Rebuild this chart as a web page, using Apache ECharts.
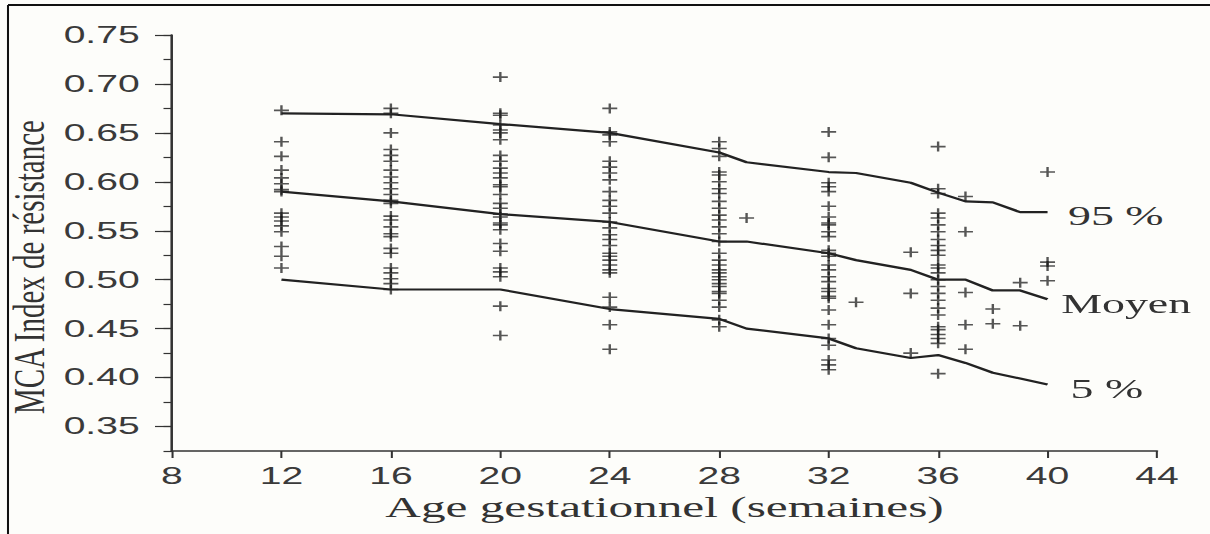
<!DOCTYPE html>
<html><head><meta charset="utf-8">
<script src="https://cdn.jsdelivr.net/npm/echarts@6/dist/echarts.min.js"></script>
<style>
html,body{margin:0;padding:0;background:#fdfdfa;overflow:hidden}
#wrap{width:1210px;height:534px;overflow:hidden;position:relative}
#chart{height:534px;transform-origin:0 0;position:absolute;left:0;top:0}
</style></head><body><div id="wrap"><div id="chart"></div></div>
<script>
// ---- data ----
const xTickValues = [8, 12, 16, 20, 24, 28, 32, 36, 40, 44];
const yTickValues = [0.35, 0.40, 0.45, 0.50, 0.55, 0.60, 0.65, 0.70, 0.75];

const curveWeeks = [12, 16, 20, 24, 28, 29, 32, 33, 35, 36, 37, 38, 39, 40];
const p95  = [0.670, 0.669, 0.659, 0.650, 0.630, 0.620, 0.610, 0.609, 0.599, 0.589, 0.580, 0.579, 0.569, 0.569];
const mean = [0.590, 0.580, 0.567, 0.559, 0.539, 0.539, 0.527, 0.520, 0.510, 0.500, 0.500, 0.489, 0.489, 0.480];
const p5   = [0.500, 0.490, 0.490, 0.470, 0.460, 0.450, 0.440, 0.430, 0.420, 0.423, 0.415, 0.405, 0.399, 0.393];

const ri12 = [0.673,0.641,0.626,0.612,0.604,0.598,0.592,0.590,0.568,0.564,0.560,0.555,0.549,0.534,0.524,0.512];
const ri16 = [0.675,0.670,0.650,0.633,0.627,0.621,0.612,0.605,0.599,0.593,0.587,0.581,0.578,0.565,0.561,0.554,0.547,0.544,0.532,0.527,0.512,0.507,0.501,0.496,0.490];
const ri20 = [0.707,0.670,0.668,0.658,0.653,0.650,0.643,0.627,0.621,0.614,0.609,0.604,0.597,0.595,0.587,0.578,0.573,0.567,0.564,0.558,0.556,0.551,0.537,0.529,0.512,0.508,0.503,0.473,0.443];
const ri24 = [0.675,0.651,0.648,0.641,0.621,0.615,0.609,0.602,0.590,0.581,0.575,0.568,0.559,0.553,0.546,0.541,0.535,0.527,0.524,0.520,0.515,0.510,0.507,0.482,0.472,0.454,0.429];
const ri28 = [0.641,0.634,0.626,0.610,0.607,0.600,0.593,0.588,0.580,0.573,0.566,0.561,0.554,0.547,0.539,0.527,0.520,0.515,0.510,0.507,0.503,0.500,0.496,0.493,0.488,0.486,0.479,0.472,0.459,0.452];
const ri29 = [0.563];
const ri32 = [0.651,0.625,0.599,0.595,0.590,0.575,0.564,0.558,0.556,0.549,0.544,0.530,0.527,0.524,0.515,0.510,0.503,0.498,0.491,0.488,0.483,0.481,0.469,0.454,0.440,0.433,0.418,0.413,0.408];
const ri33 = [0.477];
const ri35 = [0.528,0.486,0.425];
const ri36 = [0.636,0.593,0.588,0.568,0.563,0.556,0.549,0.541,0.535,0.530,0.525,0.515,0.512,0.507,0.500,0.493,0.486,0.479,0.471,0.464,0.452,0.449,0.444,0.440,0.435,0.404];
const ri37 = [0.585,0.549,0.487,0.454,0.429];
const ri38 = [0.470,0.455];
const ri39 = [0.497,0.453];
const ri40 = [0.610,0.518,0.514,0.499];

const obsWeeks = [12, 16, 20, 24, 28, 29, 32, 33, 35, 36, 37, 38, 39, 40];
const obsLists = [ri12, ri16, ri20, ri24, ri28, ri29, ri32, ri33, ri35, ri36, ri37, ri38, ri39, ri40];

// ---- layout (the picture is horizontally stretched) ----
const SX = 1.7;
const W = 1210 / SX;
const dom = document.getElementById('chart');
dom.style.width = W + 'px';
dom.style.transform = 'scaleX(' + SX + ')';

const obsData = [];
obsWeeks.forEach((w, i) => obsLists[i].forEach(v => obsData.push([w, v])));
const toPairs = arr => curveWeeks.map((w, i) => [w, arr[i]]);

const serif = "'Liberation Serif', 'Times New Roman', serif";
const sans = "'Liberation Sans', Arial, sans-serif";
const ink = '#222';

function curve(name, arr, dx) {
  return {
    type: 'line', name: name, data: toPairs(arr), symbol: 'none', silent: true, z: 3,
    lineStyle: { color: ink, width: 2.2 },
    endLabel: { show: true, formatter: name, distance: 0, offset: [dx, 4],
      color: '#333', fontFamily: serif, fontSize: 27 },
    animation: false
  };
}

const chart = echarts.init(dom, null, { renderer: 'svg', width: W, height: 534 });
chart.setOption({
  backgroundColor: '#fdfdfa',
  animation: false,
  grid: { left: 172 / SX, right: 53 / SX, top: 35, bottom: 83, containLabel: false, outerBoundsMode: 'none' },
  xAxis: {
    type: 'value', min: 8, max: 44, interval: 4,
    axisLine: { show: true, lineStyle: { color: '#333', width: 1.6 } },
    axisTick: { show: true, length: 7, lineStyle: { color: '#333', width: 1.2 } },
    axisLabel: { color: '#3a3a3a', fontFamily: sans, fontSize: 23, margin: 14,
      customValues: xTickValues },
    splitLine: { show: false },
    name: 'Age gestationnel (semaines)', nameLocation: 'middle', nameGap: 40,
    nameTextStyle: { fontFamily: serif, fontSize: 29, color: '#333' }
  },
  yAxis: [{
    type: 'value', min: 0.325, max: 0.75, interval: 0.025, position: 'left',
    axisLine: { show: true, lineStyle: { color: '#333', width: 1.5 } },
    axisTick: { show: true, length: 5, lineStyle: { color: '#333', width: 1.2 } },
    axisLabel: { show: false }, splitLine: { show: false }
  }, {
    type: 'value', min: 0.325, max: 0.75, position: 'left', offset: 0,
    axisLine: { show: false },
    axisTick: { show: true, length: 10, customValues: yTickValues, lineStyle: { color: '#333', width: 1.2 } },
    axisLabel: { show: true, customValues: yTickValues, formatter: v => v.toFixed(2),
      color: '#3a3a3a', fontFamily: sans, fontSize: 23, margin: 19 },
    splitLine: { show: false }
  }],
  graphic: [
    { type: 'line', shape: { x1: 8 / SX, y1: 5, x2: W, y2: 5 }, style: { stroke: '#111', lineWidth: 2 } },
    { type: 'line', shape: { x1: 8 / SX, y1: 5, x2: 8 / SX, y2: 534 }, style: { stroke: '#111', lineWidth: 1.2 } },
    { type: 'text', x: 29 / SX, y: 267, rotation: Math.PI / 2, scaleY: 0.9,
      style: { text: 'MCA Index de résistance', font: "29px 'Liberation Serif', serif",
        fill: '#333', textAlign: 'center', textVerticalAlign: 'middle' } }
  ],
  series: [
    {
      type: 'scatter', data: obsData, yAxisIndex: 0, z: 2,
      symbol: 'path://M0,4.2H10V5.8H0Z M4.2,0H5.8V10H4.2Z',
      symbolSize: [8.8, 10],
      itemStyle: { color: '#151515', opacity: 0.72 },
      silent: true
    },
    curve('95 %', p95, 12),
    curve('Moyen', mean, 8),
    curve('5 %', p5, 13.5)
  ]
});
</script></body></html>
